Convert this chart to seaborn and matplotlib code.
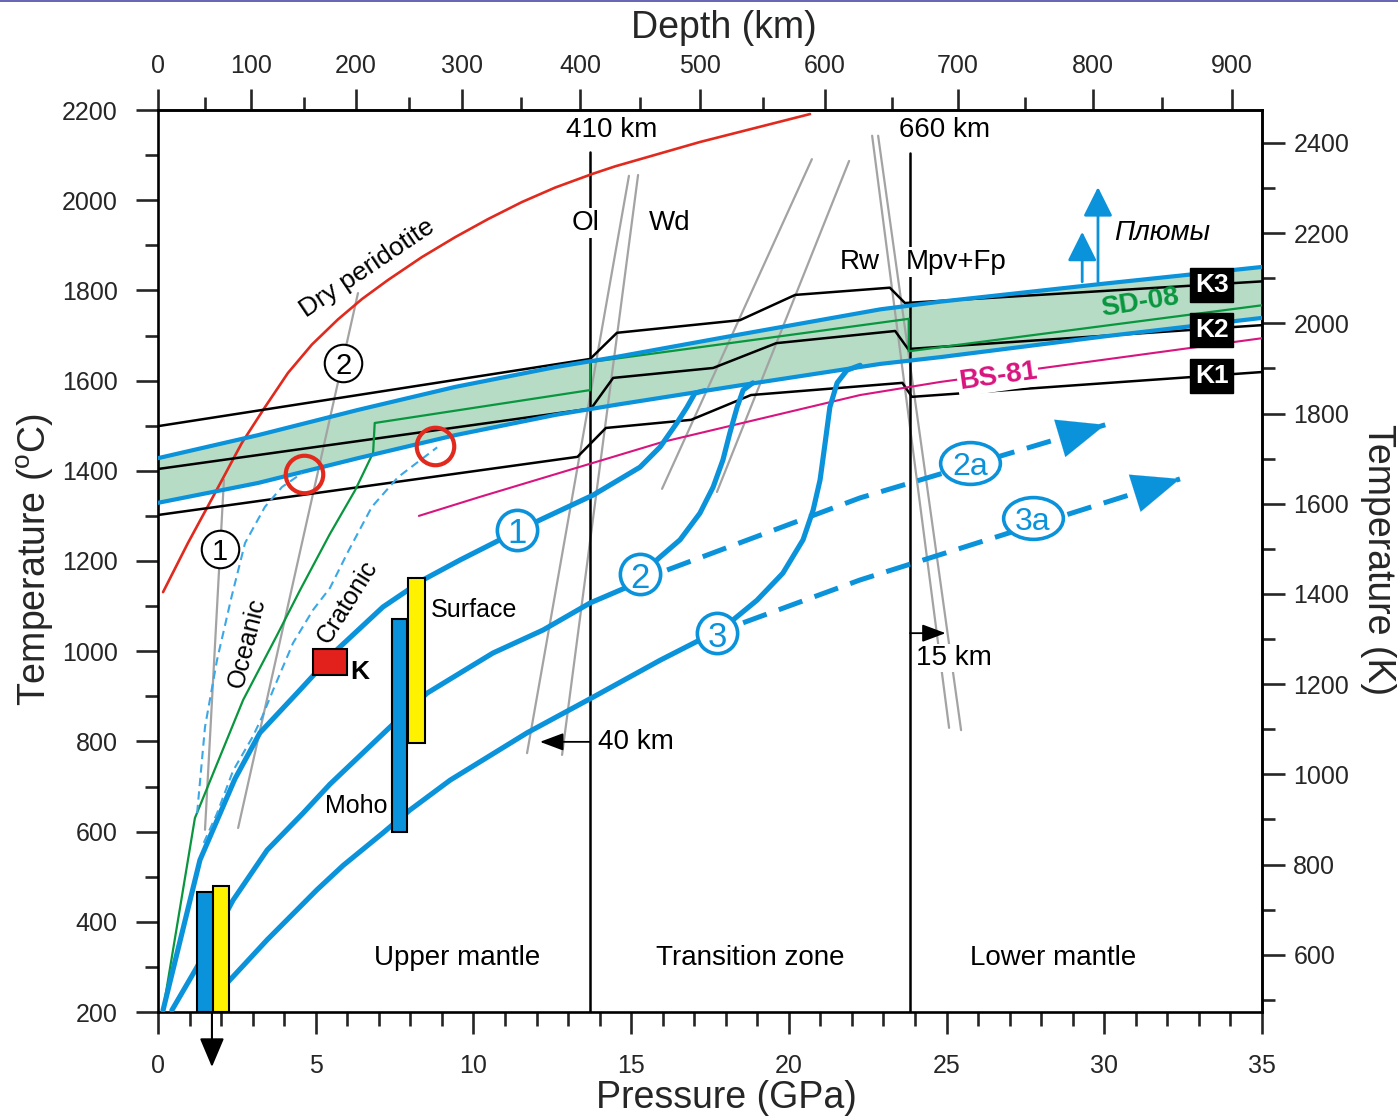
import numpy as np
import pandas as pd
import matplotlib
matplotlib.use("Agg")
import matplotlib.pyplot as plt
import seaborn as sns
from matplotlib.path import Path
from matplotlib.markers import MarkerStyle
from matplotlib.transforms import Affine2D
from matplotlib.lines import Line2D
from matplotlib.ticker import FixedLocator, MultipleLocator

# ------------------------------------------------------------------ data
depth_km = [0, 100, 200, 300, 400, 500, 600, 700, 800, 900]
depth_gpa = [0, 2.95, 6.28, 9.64, 13.38, 17.18, 21.15, 25.36, 29.64, 34.05]
depth_minor_km = [50, 150, 250, 350, 450, 550, 650, 750, 850]

dry_P = [0.16, 0.95, 1.81, 2.66, 3.39, 4.12, 4.88, 5.71, 6.47, 7.29, 8.37, 9.42, 10.46,
         11.54, 12.59, 13.76, 14.49, 17.18, 20.67]
dry_T = [1131, 1240, 1351, 1462, 1541, 1617, 1680, 1736, 1781, 1823, 1874, 1918, 1958,
         1996, 2028, 2058, 2075, 2129, 2191]

band_P = [0, 3.17, 6.34, 9.42, 12.6, 14.49, 18.5, 22.9, 24.8, 30, 35]
band_upper_T = [1428, 1479, 1535, 1586, 1630, 1652, 1703, 1758, 1775, 1815, 1852]
band_lower_T = [1329, 1373, 1428, 1479, 1524, 1546, 1590, 1637, 1652, 1698, 1739]

k3_P = [0, 13.70, 14.55, 18.45, 20.2, 23.2, 23.68, 35]
k3_T = [1499, 1648, 1706, 1734, 1790, 1806, 1772, 1820]
k2_P = [0, 13.73, 14.43, 17.6, 19.6, 23.37, 23.78, 35]
k2_T = [1404, 1538, 1606, 1628, 1683, 1710, 1670, 1723]
k1_P = [0, 13.3, 14.2, 16.9, 18.8, 23.6, 23.9, 35]
k1_T = [1302, 1431, 1495, 1513, 1568, 1595, 1564, 1619]

sd08_P = [0.15, 1.17, 1.87, 2.7, 3.77, 4.5, 5.45, 6.25, 6.82, 6.87, 13.7, 13.7, 23.8, 23.8, 35]
sd08_T = [200, 630, 750, 892, 1035, 1135, 1260, 1357, 1440, 1506, 1579, 1641, 1737, 1665, 1767]

bs81_P = [8.27, 10.2, 16.0, 22.26, 24.8, 35]
bs81_T = [1300, 1342, 1464, 1568, 1597, 1694]

geo1_P = [0.16, 1.33, 2.44, 3.23, 4.50, 5.67, 7.13, 8.40, 9.57, 10.84, 12.11, 13.79,
          15.28, 15.92, 16.45, 16.77, 17.02, 17.34]
geo1_T = [204, 537, 717, 819, 914, 1003, 1098, 1158, 1202, 1247, 1291, 1346,
          1408, 1453, 1506, 1541, 1572, 1578]
geo2_P = [0.44, 1.24, 2.38, 3.46, 4.60, 5.45, 7.36, 8.53, 9.89, 10.62, 12.21, 13.70, 14.87,
          15.28, 15.92, 16.55, 17.18, 17.6, 17.91, 18.13, 18.36, 18.55, 18.86]
geo2_T = [204, 300, 448, 559, 641, 705, 832, 907, 965, 996, 1047, 1107, 1142,
          1169, 1209, 1247, 1306, 1364, 1424, 1484, 1541, 1579, 1595]
geo3_P = [1.33, 2.28, 3.46, 5.04, 5.87, 7.13, 7.99, 9.26, 11.70, 13.79, 15.92, 17.18, 17.72,
          18.99, 19.81, 20.45, 20.77, 20.99, 21.15, 21.3, 21.53, 21.84, 22.26]
geo3_T = [200, 271, 360, 471, 525, 597, 648, 714, 819, 898, 980, 1025, 1040,
          1113, 1173, 1247, 1313, 1380, 1462, 1541, 1595, 1623, 1634]

ext2a_P = [16.14, 22.26, 30.03]
ext2a_T = [1180, 1340, 1502]
ext3a_P = [18.55, 22.26, 32.40]
ext3a_T = [1063, 1158, 1382]

oceanic_P = [1.24, 1.49, 1.87, 2.33, 2.76, 3.39, 3.93, 4.57]
oceanic_T = [641, 832, 980, 1120, 1240, 1320, 1364, 1395]
cratonic_P = [1.45, 1.87, 2.38, 3.0, 3.30, 3.65, 4.28, 4.91, 5.45, 6.02, 6.78, 7.61, 8.85]
cratonic_T = [575, 640, 735, 810, 854, 914, 1018, 1091, 1140, 1220, 1320, 1386, 1452]

gray_lines = {
    "g1": ([1.49, 2.09], [604, 1380]),
    "g2": ([2.54, 6.34], [608, 1794]),
    "ol1": ([11.70, 14.93], [774, 2054]),
    "ol2": ([12.81, 15.22], [770, 2056]),
    "rw1": ([15.98, 20.73], [1360, 2091]),
    "rw2": ([17.72, 21.91], [1353, 2087]),
    "mpv1": ([22.64, 25.08], [2143, 830]),
    "mpv2": ([22.83, 25.46], [2143, 825]),
}

disc_P = [13.70, 23.84]          # 410 km and 660 km
disc_T_top = [2107, 2105]

bar_left = [1.24, 1.74, 7.42, 7.93]
bar_right = [1.74, 2.25, 7.89, 8.47]
bar_bottom = [200, 200, 599, 796]
bar_top = [466, 479, 1071, 1162]
bar_kind = ["blue", "yellow", "blue", "yellow"]

kbox_P = [4.91, 5.99]
kbox_T = [947, 1005]

red_circle_P = [4.63, 8.77]
red_circle_T = [1393, 1456]

plume_P = [29.3, 29.8]
plume_T0 = [1819, 1819]
plume_T1 = [1930, 2029]

x_ticks = [0, 5, 10, 15, 20, 25, 30, 35]
y_ticks = list(range(200, 2201, 200))
yk_ticks = list(range(600, 2401, 200))

# ------------------------------------------------------------------ style
sns.set_theme(style="ticks")
plt.rcParams["font.family"] = ["Liberation Sans", "DejaVu Sans"]
plt.rcParams["mathtext.fontset"] = "custom"
plt.rcParams["mathtext.rm"] = "Liberation Sans"

BLUE = "#0a92db"
LBLUE = "#3aa7e6"
GREEN = "#08963e"
FILL = "#b6dcc6"
RED = "#e1291d"
MAG = "#d8147f"
GRAY = "#a3a3a3"
YEL = "#fff200"

W, H = 1398, 1116
fig = plt.figure(figsize=(W / 100, H / 100), dpi=100)
ax = fig.add_axes([158 / W, 1 - 1012 / H, (1262 - 158) / W, (1012 - 110) / H])
ax.set_xlim(0, 35)
ax.set_ylim(200, 2200)


def line(P, T, color, lw, z, **kw):
    df = pd.DataFrame({"P": P, "T": T})
    sns.lineplot(data=df, x="P", y="T", sort=False, estimator=None, color=color,
                 linewidth=lw, ax=ax, zorder=z, **kw)


# band fill
ax.fill_between(band_P, band_lower_T, band_upper_T, color=FILL, lw=0, zorder=1)

# gray phase lines
for key, (P, T) in gray_lines.items():
    line(P, T, GRAY, 1.6, 2)

# discontinuities
for p, tt in zip(disc_P, disc_T_top):
    line([p, p], [200, tt], "black", 1.8, 2.5)

# dry peridotite
line(dry_P, dry_T, RED, 1.9, 3, solid_joinstyle="round")
# adiabats
for P, T in [(k3_P, k3_T), (k2_P, k2_T), (k1_P, k1_T)]:
    line(P, T, "black", 1.8, 3)
line(sd08_P, sd08_T, GREEN, 1.6, 3)
line(bs81_P, bs81_T, MAG, 1.5, 3)

# band boundaries
line(band_P, band_upper_T, BLUE, 3.0, 4)
line(band_P, band_lower_T, BLUE, 3.0, 4)

# geotherms
for P, T in [(geo1_P, geo1_T), (geo2_P, geo2_T), (geo3_P, geo3_T)]:
    line(P, T, BLUE, 3.7, 5, solid_capstyle="round", solid_joinstyle="round")
for P, T in [(ext2a_P, ext2a_T), (ext3a_P, ext3a_T)]:
    line(P, T, BLUE, 3.6, 5, linestyle=(0, (5.0, 2.6)))
    ax.annotate("", xy=(P[-1], T[-1]),
                xytext=(P[-1] - 1.2, T[-1] - 1.2 * (T[-1] - T[-2]) / (P[-1] - P[-2])),
                arrowprops=dict(arrowstyle="-|>,head_length=1.7,head_width=0.7", mutation_scale=20,
                                color=BLUE, lw=0.1, shrinkA=0, shrinkB=0), zorder=6)

# oceanic / cratonic dashed
line(oceanic_P, oceanic_T, LBLUE, 1.5, 6, linestyle=(0, (4, 2.5)))
line(cratonic_P, cratonic_T, LBLUE, 1.5, 6, linestyle=(0, (4, 2.5)))

# bars
for l, r, b, t, k in zip(bar_left, bar_right, bar_bottom, bar_top, bar_kind):
    ax.bar((l + r) / 2, t - b, width=r - l, bottom=b, color=(BLUE if k == "blue" else YEL),
           edgecolor="black", linewidth=1.5, zorder=7)
ax.bar(sum(kbox_P) / 2, kbox_T[1] - kbox_T[0], width=kbox_P[1] - kbox_P[0], bottom=kbox_T[0],
       color="#e2201c", edgecolor="black", linewidth=1.5, zorder=7)

# red circles
ax.plot(red_circle_P, red_circle_T, ls="none", marker="o", ms=27, mfc="none", mec=RED, mew=3.0, zorder=8)

# plume arrows
for p, t0, t1 in zip(plume_P, plume_T0, plume_T1):
    ax.annotate("", xy=(p, t1), xytext=(p, t0),
                arrowprops=dict(arrowstyle="-|>,head_length=0.9,head_width=0.45", mutation_scale=20,
                                color=BLUE, lw=2.0, shrinkA=0, shrinkB=0), zorder=6)

# small black arrows
ax.annotate("", xy=(1.71, 78), xytext=(1.71, 200), annotation_clip=False,
            arrowprops=dict(arrowstyle="-|>,head_length=0.9,head_width=0.38", mutation_scale=20,
                            color="black", lw=1.5, shrinkA=0, shrinkB=0), zorder=9)
ax.annotate("", xy=(12.11, 799), xytext=(13.70, 799),
            arrowprops=dict(arrowstyle="-|>,head_length=0.8,head_width=0.3", mutation_scale=18,
                            color="black", lw=1.3, shrinkA=0, shrinkB=0), zorder=9)
ax.annotate("", xy=(24.97, 1040), xytext=(23.84, 1040),
            arrowprops=dict(arrowstyle="-|>,head_length=0.8,head_width=0.3", mutation_scale=18,
                            color="black", lw=1.3, shrinkA=0, shrinkB=0), zorder=9)

# circled labels
ell = MarkerStyle(Path.unit_circle().transformed(Affine2D().scale(1.0, 0.7)))
blue_labels = [("1", 11.38, 1269, "o"), ("2", 15.28, 1171, "o"), ("3", 17.72, 1040, "o"),
               ("2a", 25.74, 1417, ell), ("3a", 27.74, 1295, ell)]
for txt, p, t, m in blue_labels:
    ms = 29 if m == "o" else 43
    ax.plot([p], [t], marker=m, ms=ms, mfc="white", mec=BLUE, mew=2.6, ls="none", zorder=9)
    ax.text(p, t - 9, txt, ha="center", va="center", color=BLUE,
            fontsize=(25 if m == "o" else 23), zorder=10)
for txt, p, t in [("1", 1.97, 1227), ("2", 5.87, 1639)]:
    ax.plot([p], [t], marker="o", ms=27, mfc="white", mec="black", mew=1.5, ls="none", zorder=9)
    ax.text(p, t - 7, txt, ha="center", va="center", color="black", fontsize=21, zorder=10)

# text labels
tk = dict(color="black", fontsize=20, zorder=10)
ax.text(9.48, 320, "Upper mantle", ha="center", va="center", **tk)
ax.text(18.77, 320, "Transition zone", ha="center", va="center", **tk)
ax.text(28.37, 320, "Lower mantle", ha="center", va="center", **tk)
ax.text(14.39, 2156, "410 km", ha="center", va="center", **tk)
ax.text(24.95, 2156, "660 km", ha="center", va="center", **tk)
wb = dict(fc="white", ec="none", pad=1.5)
ax.text(13.57, 1949, "Ol", ha="center", va="center", bbox=wb, **tk)
ax.text(16.23, 1949, "Wd", ha="center", va="center", **tk)
ax.text(22.26, 1863, "Rw", ha="center", va="center", **tk)
ax.text(25.30, 1863, "Mpv+Fp", ha="center", va="center", bbox=wb, **tk)
ax.text(31.83, 1927, "Плюмы", ha="center", va="center", style="italic", **tk)
ax.text(10.02, 1091, "Surface", ha="center", va="center", color="black", fontsize=18, zorder=10)
ax.text(6.28, 657, "Moho", ha="center", va="center", color="black", fontsize=18, zorder=10)
ax.text(6.40, 954, "K", ha="center", va="center", color="black", fontsize=19, weight="bold", zorder=10)
ax.text(13.95, 799, "40 km", ha="left", va="center", **tk)
ax.text(24.03, 985, "15 km", ha="left", va="center", bbox=dict(fc="white", ec="none", pad=0.5), **tk)
ax.text(2.82, 1018, "Oceanic", ha="center", va="center", rotation=76, rotation_mode="anchor",
        color="black", fontsize=18, zorder=10)
ax.text(6.02, 1109, "Cratonic", ha="center", va="center", rotation=58, rotation_mode="anchor",
        color="black", fontsize=18, zorder=10)
ax.text(6.63, 1850, "Dry peridotite", ha="center", va="center", rotation=34, rotation_mode="anchor",
        color="black", fontsize=19, zorder=10)
ax.text(31.13, 1772, "SD-08", ha="center", va="center", rotation=9, rotation_mode="anchor",
        color=GREEN, fontsize=20, weight="bold", zorder=10)
ax.text(26.63, 1608, "BS-81", ha="center", va="center", rotation=8, rotation_mode="anchor",
        color=MAG, fontsize=20, weight="bold", zorder=10, bbox=dict(fc="white", ec="none", pad=1))
for txt, t in [("K3", 1812), ("K2", 1712), ("K1", 1610)]:
    ax.text(33.41, t, txt, ha="center", va="center", color="white", fontsize=19, weight="bold",
            zorder=10, bbox=dict(boxstyle="square,pad=0.18", fc="black", ec="black"))

# ------------------------------------------------------------------ axes
for s in ax.spines.values():
    s.set_linewidth(1.9)
    s.set_color("black")
ax.set_xticks(x_ticks)
ax.xaxis.set_minor_locator(MultipleLocator(1))
ax.set_yticks(y_ticks)
ax.yaxis.set_minor_locator(MultipleLocator(100))
ax.tick_params(axis="x", which="major", direction="out", length=16, width=1.9, labelsize=18, pad=14)
ax.tick_params(axis="x", which="minor", direction="out", length=10, width=1.9)
ax.tick_params(axis="y", which="major", direction="out", length=16, width=1.9, labelsize=18, pad=13)
ax.tick_params(axis="y", which="minor", direction="out", length=9.5, width=1.9)
ax.set_xlabel("")
ax.set_ylabel("")

dg = np.array(depth_gpa, float)
dk = np.array(depth_km, float)
dg_ext = np.concatenate([[-100.0], dg, [100.0]])
s0 = (dk[1] - dk[0]) / (dg[1] - dg[0])
s1 = (dk[-1] - dk[-2]) / (dg[-1] - dg[-2])
dk_ext = np.concatenate([[dk[0] - s0 * (dg[0] + 100)], dk, [dk[-1] + s1 * (100 - dg[-1])]])


def p2d(p):
    return np.interp(p, dg_ext, dk_ext)


def d2p(d):
    return np.interp(d, dk_ext, dg_ext)


secx = ax.secondary_xaxis("top", functions=(p2d, d2p))
secx.set_xticks(depth_km)
secx.xaxis.set_minor_locator(FixedLocator(depth_minor_km))
secx.tick_params(axis="x", which="major", direction="out", length=15, width=1.9, labelsize=18, pad=8)
secx.tick_params(axis="x", which="minor", direction="out", length=9.5, width=1.9)
secx.spines["top"].set_linewidth(1.9)

secy = ax.secondary_yaxis("right", functions=(lambda c: c + 273, lambda k: k - 273))
secy.set_yticks(yk_ticks)
secy.yaxis.set_minor_locator(MultipleLocator(100))
secy.tick_params(axis="y", which="major", direction="out", length=16.5, width=1.9, labelsize=18, pad=6)
secy.tick_params(axis="y", which="minor", direction="out", length=9.5, width=1.9)
secy.spines["right"].set_linewidth(1.9)

fig.text(724 / W, 1 - 28 / H, "Depth (km)", ha="center", va="center", fontsize=27)
fig.text(726 / W, 1 - 1098 / H, "Pressure (GPa)", ha="center", va="center", fontsize=27)
fig.text(35 / W, 1 - 560 / H, r"Temperature ($^{\mathrm{o}}$C)", ha="center", va="center",
         rotation=90, fontsize=27)
fig.text(1378 / W, 1 - 560 / H, "Temperature (K)", ha="center", va="center", rotation=270, fontsize=27)
fig.add_artist(Line2D([0, 1], [1 - 1 / H, 1 - 1 / H], color="#4a4aa8", lw=1.2))

fig.savefig("out.png", dpi=100)
